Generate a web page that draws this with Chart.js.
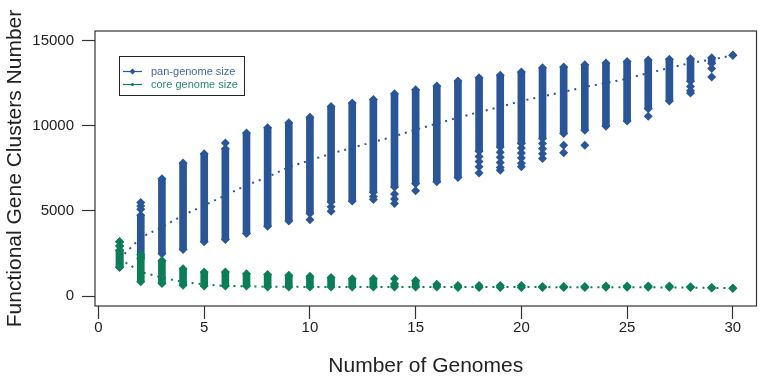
<!DOCTYPE html>
<html><head><meta charset="utf-8">
<script src="https://cdn.jsdelivr.net/npm/chart.js@4.4.0/dist/chart.umd.min.js"></script>
<style>html,body{margin:0;padding:0;background:#fff}#wrap{width:761px;height:379px}</style>
</head><body><div id="wrap"><canvas id="c" width="761" height="379"></canvas></div>
<script>
const genomes = [1,2,3,4,5,6,7,8,9,10,11,12,13,14,15,16,17,18,19,20,21,22,23,24,25,26,27,28,29,30];
const panDenseMin = [1700,2200,2500,2740,3190,3330,3680,4100,4420,4850,5530,5590,6100,6400,6600,6710,6960,8500,8750,8950,9250,9540,9740,9970,10280,11000,11450,12600,13650,14130];
const panDenseMax = [2700,4750,6890,7810,8360,8650,9570,9880,10175,10490,11130,11330,11540,11875,12110,12330,12620,12810,12950,13150,13400,13440,13575,13670,13770,13850,13900,13930,13985,14130];
const panOutlierX = [1,1,2,2,2,6,10,11,11,13,13,14,14,14,15,18,18,18,18,19,19,19,19,19,20,20,20,20,20,21,21,21,21,22,22,23,26,28,28,28,29,29];
const panOutlierY = [3200,2950,5500,5300,5100,8980,4480,5250,4990,5850,5670,6000,5700,5440,6180,8200,7900,7600,7230,8450,8150,7850,7550,7390,8700,8400,8100,7800,7590,8950,8650,8350,8070,8860,8410,8860,10560,12300,12050,11920,13350,12860];
const panMean = [2200,3440,4060,4750,5330,5920,6510,6990,7580,7970,8360,8710,9045,9380,9770,10120,10470,10800,11100,11450,11720,11980,12270,12500,12760,13090,13380,13680,13870,14130];
const coreDenseMin = [1700,850,745,650,600,610,610,550,550,550,550,550,550,550,550,550,510,510,510,520,520,520,520,530,530,530,530,520,480,470];
const coreDenseMax = [2700,2450,2100,1620,1420,1420,1320,1280,1230,1170,1100,1030,1030,740,930,700,640,640,640,640,570,570,570,600,600,600,600,560,510,470];
const coreOutlierX = [1,1,14];
const coreOutlierY = [3200,2950,1030];
const coreMean = [2200,1425,1095,840,700,605,590,560,555,550,550,548,546,545,545,543,542,541,540,540,538,536,534,532,530,525,520,510,495,480];
const xTickValues = [0,5,10,15,20,25,30];
const yTickValues = [0,5000,10000,15000];
const seriesNames = ['pan-genome size','core genome size'];
const xTitle = 'Number of Genomes';
const yTitle = 'Functional Gene Clusters Number';

const BLUE = '#2A5597';
const GREEN = '#0B7D57';
const FONT = '"Liberation Sans", Arial, sans-serif';

function ranges(mins, maxs){ return genomes.map((g,i)=>({x:g, y:[mins[i], maxs[i]]})); }
function ends(mins, maxs){ const o=[]; genomes.forEach((g,i)=>{o.push({x:g,y:mins[i]}); o.push({x:g,y:maxs[i]});}); return o; }
function pts(xs, ys){ return xs.map((x,i)=>({x:x, y:ys[i]})); }
function line(vals){ return genomes.map((g,i)=>({x:g, y:vals[i]})); }

const decor = {
  id:'decor',
  beforeDraw(chart){
    const c=chart.ctx; c.save(); c.fillStyle='#fff'; c.fillRect(0,0,chart.width,chart.height); c.restore();
  },
  afterDraw(chart){
    const c=chart.ctx, a=chart.chartArea;
    c.save();
    c.strokeStyle='#333'; c.lineWidth=1.2;
    c.strokeRect(a.left, a.top, a.right-a.left, a.bottom-a.top);
    c.fillStyle='#222'; c.font='21px '+FONT; c.textAlign='center'; c.textBaseline='middle';
    c.fillText(xTitle, (a.left+a.right)/2, 366);
    c.save(); c.translate(15, (a.top+a.bottom)/2); c.rotate(-Math.PI/2); c.fillText(yTitle,0,0); c.restore();
    // legend
    c.fillStyle='#fff'; c.fillRect(119.5,56.5,125,39);
    c.strokeStyle='#222'; c.lineWidth=1; c.strokeRect(119.5,56.5,125,39);
    const rows=[[71.5,BLUE,'d','#4468A6'],[84.5,GREEN,'c','#2A8A66']];
    rows.forEach((r,i)=>{
      c.strokeStyle=r[1]; c.lineWidth=1.2; c.beginPath(); c.moveTo(123,r[0]); c.lineTo(142,r[0]); c.stroke();
      c.fillStyle=r[1]; c.beginPath();
      if(r[2]==='d'){ c.moveTo(132.5,r[0]-3); c.lineTo(135.5,r[0]); c.lineTo(132.5,r[0]+3); c.lineTo(129.5,r[0]); c.closePath(); }
      else { c.arc(132.5,r[0],1.6,0,Math.PI*2); }
      c.fill();
      c.fillStyle=r[3];
      c.font='11px '+FONT; c.textAlign='left'; c.textBaseline='middle'; c.fillText(seriesNames[i],151,r[0]);
    });
    c.restore();
  }
};

new Chart(document.getElementById('c'), {
  type:'scatter',
  data:{ datasets:[
    {type:'bar', label:seriesNames[0], data:ranges(panDenseMin,panDenseMax), backgroundColor:BLUE, barThickness:7, grouped:false, borderWidth:0, borderSkipped:false, order:60},
    {type:'scatter', data:ends(panDenseMin,panDenseMax), pointStyle:'rectRot', pointRadius:4.5, backgroundColor:BLUE, borderWidth:0, order:55},
    {type:'scatter', data:pts(panOutlierX,panOutlierY), pointStyle:'rectRot', pointRadius:4.5, backgroundColor:BLUE, borderWidth:0, order:50},
    {type:'line', data:line(panMean), borderColor:BLUE, borderWidth:2, borderDash:[2,5], pointRadius:0, fill:false, tension:0, order:40},
    {type:'bar', label:seriesNames[1], data:ranges(coreDenseMin,coreDenseMax), backgroundColor:GREEN, barThickness:7, grouped:false, borderWidth:0, borderSkipped:false, order:30},
    {type:'scatter', data:ends(coreDenseMin,coreDenseMax), pointStyle:'rectRot', pointRadius:4.5, backgroundColor:GREEN, borderWidth:0, order:25},
    {type:'scatter', data:pts(coreOutlierX,coreOutlierY), pointStyle:'rectRot', pointRadius:4.5, backgroundColor:GREEN, borderWidth:0, order:20},
    {type:'line', data:line(coreMean), borderColor:GREEN, borderWidth:2, borderDash:[2,5], pointRadius:0, fill:false, tension:0, order:10}
  ]},
  options:{
    responsive:false, animation:false, devicePixelRatio:1,
    layout:{padding:{top:31,right:4,left:0,bottom:0}},
    plugins:{legend:{display:false}, tooltip:{enabled:false}},
    scales:{
      x:{type:'linear', min:-0.165, max:31.12, offset:false,
        afterBuildTicks:s=>{s.ticks=xTickValues.map(v=>({value:v}));},
        afterFit:s=>{s.height=73;},
        ticks:{font:{family:FONT,size:15}, color:'#222', padding:0, maxRotation:0, autoSkip:false, callback:v=>String(v)},
        grid:{display:true, offset:false, drawOnChartArea:false, drawTicks:true, tickLength:13, color:'#333', tickWidth:1.2},
        border:{display:false}},
      y:{type:'linear', min:-569, max:15551,
        afterBuildTicks:s=>{s.ticks=yTickValues.map(v=>({value:v}));},
        afterFit:s=>{s.width=95;},
        ticks:{font:{family:FONT,size:15}, color:'#222', padding:8, autoSkip:false, callback:v=>String(v)},
        grid:{display:true, offset:false, drawOnChartArea:false, drawTicks:true, tickLength:13, color:'#333', tickWidth:1.2},
        border:{display:false}}
    }
  },
  plugins:[decor]
});
</script></body></html>
